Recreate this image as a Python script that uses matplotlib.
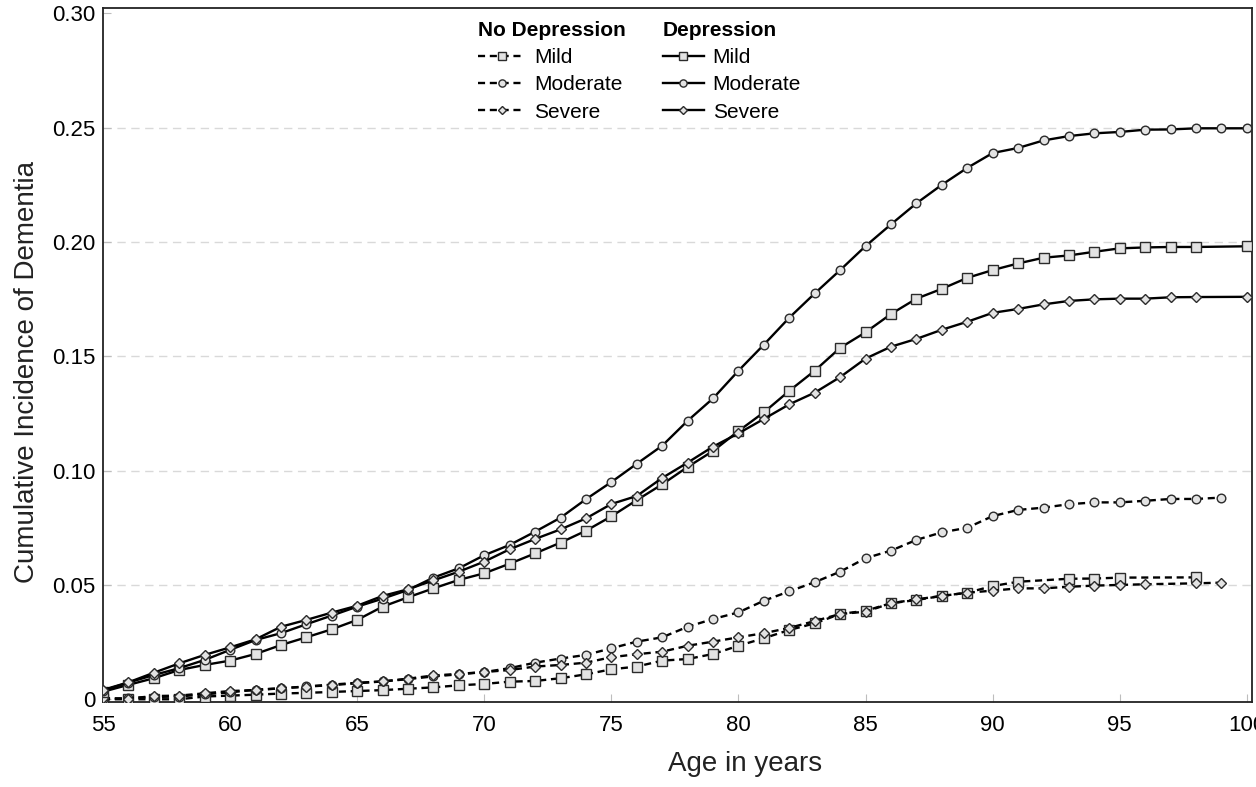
import numpy as np
import matplotlib
matplotlib.use('Agg')
import matplotlib.pyplot as plt
from matplotlib.lines import Line2D

plt.rcParams['font.family'] = ['Liberation Sans', 'DejaVu Sans']

ages = np.arange(55, 101)
nan = np.nan

# Depression (solid lines)
dep_mild = [0.0033, 0.0063, 0.0092, 0.0128, 0.0150, 0.0169, 0.0198, 0.0237, 0.0271, 0.0306,
            0.0347, 0.0405, 0.0446, 0.0485, 0.0522, 0.0551, 0.0593, 0.0638, 0.0685, 0.0737,
            0.0800, 0.0871, 0.0940, 0.1016, 0.1086, 0.1173, 0.1255, 0.1349, 0.1437, 0.1537,
            0.1605, 0.1685, 0.1752, 0.1795, 0.1843, 0.1877, 0.1906, 0.1931, 0.1941, 0.1957,
            0.1972, 0.1976, 0.1978, 0.1978, nan, 0.1981]
dep_moderate = [0.0038, 0.0073, 0.0106, 0.0136, 0.0172, 0.0216, 0.0259, 0.0289, 0.0328, 0.0366,
                0.0405, 0.0440, 0.0478, 0.0532, 0.0573, 0.0630, 0.0675, 0.0733, 0.0794, 0.0875,
                0.0950, 0.1030, 0.1109, 0.1218, 0.1316, 0.1437, 0.1551, 0.1669, 0.1775, 0.1877,
                0.1982, 0.2077, 0.2169, 0.2250, 0.2324, 0.2389, 0.2411, 0.2444, 0.2463, 0.2475,
                0.2481, 0.2491, 0.2492, 0.2497, 0.2497, 0.2497]
dep_severe = [0.0041, 0.0074, 0.0116, 0.0157, 0.0194, 0.0227, 0.0262, 0.0317, 0.0347, 0.0379,
              0.0409, 0.0452, 0.0481, 0.0520, 0.0558, 0.0602, 0.0656, 0.0701, 0.0743, 0.0791,
              0.0854, 0.0889, 0.0968, 0.1035, 0.1105, 0.1163, 0.1226, 0.1290, 0.1341, 0.1409,
              0.1490, 0.1542, 0.1576, 0.1616, 0.1651, 0.1690, 0.1707, 0.1727, 0.1742, 0.1749,
              0.1752, 0.1752, 0.1758, 0.1759, nan, 0.1760]

# No depression (dashed lines)
nodep_mild = [0.0000, 0.0000, 0.0000, 0.0000, 0.0012, 0.0016, 0.0020, 0.0025, 0.0028, 0.0032,
              0.0036, 0.0040, 0.0046, 0.0052, 0.0061, 0.0067, 0.0077, 0.0080, 0.0092, 0.0109,
              0.0131, 0.0143, 0.0169, 0.0176, 0.0198, 0.0234, 0.0267, 0.0303, 0.0332, 0.0373,
              0.0387, 0.0420, 0.0434, 0.0452, 0.0466, 0.0495, 0.0514, nan, 0.0527, 0.0528,
              0.0532, nan, nan, 0.0533, nan, nan]
nodep_moderate = [0.0000, 0.0005, 0.0010, 0.0012, 0.0022, 0.0030, 0.0042, 0.0048, 0.0056, 0.0064,
                  0.0072, 0.0078, 0.0088, 0.0100, 0.0109, 0.0119, 0.0136, 0.0160, 0.0178, 0.0194,
                  0.0223, 0.0252, 0.0271, 0.0317, 0.0351, 0.0380, 0.0431, 0.0472, 0.0512, 0.0558,
                  0.0617, 0.0650, 0.0697, 0.0730, 0.0750, 0.0801, 0.0828, 0.0838, 0.0853, 0.0861,
                  0.0861, 0.0868, 0.0876, 0.0876, 0.0882, nan]
nodep_severe = [0.0005, 0.0003, 0.0014, 0.0016, 0.0026, 0.0036, 0.0040, 0.0048, 0.0055, 0.0062,
                0.0070, 0.0078, 0.0090, 0.0104, 0.0111, 0.0119, 0.0128, 0.0143, 0.0150, 0.0160,
                0.0184, 0.0197, 0.0208, 0.0234, 0.0252, 0.0271, 0.0289, 0.0312, 0.0342, 0.0373,
                0.0383, 0.0420, 0.0437, 0.0452, 0.0466, 0.0475, 0.0485, 0.0485, 0.0492, 0.0497,
                0.0500, 0.0503, nan, 0.0507, 0.0510, nan]

levels = ['Mild', 'Moderate', 'Severe']
markers = {'Mild': ('s', 6.8), 'Moderate': ('o', 6.2), 'Severe': ('D', 5.2)}

FACE = '#e3e3e3'
EDGE = '#2b2b2b'

fig = plt.figure(figsize=(12.56, 7.87), dpi=100)
ax = fig.add_axes([0.082, 0.108, 0.9148, 0.8818])


def draw(values, level, ls):
    y = np.array(values, dtype=float)
    ok = ~np.isnan(y)
    m, ms = markers[level]
    ax.plot(ages[ok], y[ok], color='black', linestyle=ls, linewidth=1.7,
            marker=m, markersize=ms, markerfacecolor=FACE, markeredgecolor=EDGE,
            markeredgewidth=1.0, dashes=(3, 2) if ls == '--' else (None, None), zorder=3)


for vals, lev in zip([nodep_mild, nodep_moderate, nodep_severe], levels):
    draw(vals, lev, '--')
for vals, lev in zip([dep_mild, dep_moderate, dep_severe], levels):
    draw(vals, lev, '-')

ax.set_xlim(55, 100.2)
ax.set_ylim(-0.0012, 0.3023)
ax.set_xticks(np.arange(55, 101, 5))
ax.set_yticks([0, 0.05, 0.10, 0.15, 0.20, 0.25, 0.30])
ax.set_yticklabels(['0', '0.05', '0.10', '0.15', '0.20', '0.25', '0.30'])

for g in [0.05, 0.10, 0.15, 0.20, 0.25]:
    ax.axhline(g, color='#d9d9d9', linestyle=(0, (6, 4)), linewidth=1.0, zorder=1)

ax.tick_params(direction='in', length=6, color='#bdbdbd', labelsize=16)
ax.tick_params(axis='x', pad=9)
ax.tick_params(axis='y', pad=5.5)
for sp in ax.spines.values():
    sp.set_linewidth(1.3)
    sp.set_color('#222222')

ax.set_xlabel('Age in years', fontsize=20, color='#222222')
ax.set_ylabel('Cumulative Incidence of Dementia', fontsize=20, color='#222222')
ax.xaxis.set_label_coords(0.5587, -0.070)
ax.yaxis.set_label_coords(-0.0545, 0.4755)


def handles(ls):
    hs = []
    for lev in levels:
        m, ms = markers[lev]
        hs.append(Line2D([], [], color='black', linestyle=ls, linewidth=1.7,
                         dashes=(3, 2) if ls == '--' else (None, None),
                         marker=m, markersize=ms - 1, markerfacecolor=FACE,
                         markeredgecolor=EDGE, markeredgewidth=1.0))
    return hs


leg_kw = dict(loc='upper left', frameon=False, fontsize=15, borderaxespad=0, borderpad=0,
              labelspacing=0.4, handletextpad=0.4, alignment='left',
              title_fontproperties={'weight': 'bold', 'size': 15})
leg1 = ax.legend(handles('--'), levels, title='No Depression', handlelength=2.3,
                 bbox_to_anchor=(0.326, 0.982), **leg_kw)
ax.add_artist(leg1)
ax.legend(handles('-'), levels, title='Depression', handlelength=2.0,
          bbox_to_anchor=(0.487, 0.982), **leg_kw)

fig.savefig('out.png', dpi=100)
